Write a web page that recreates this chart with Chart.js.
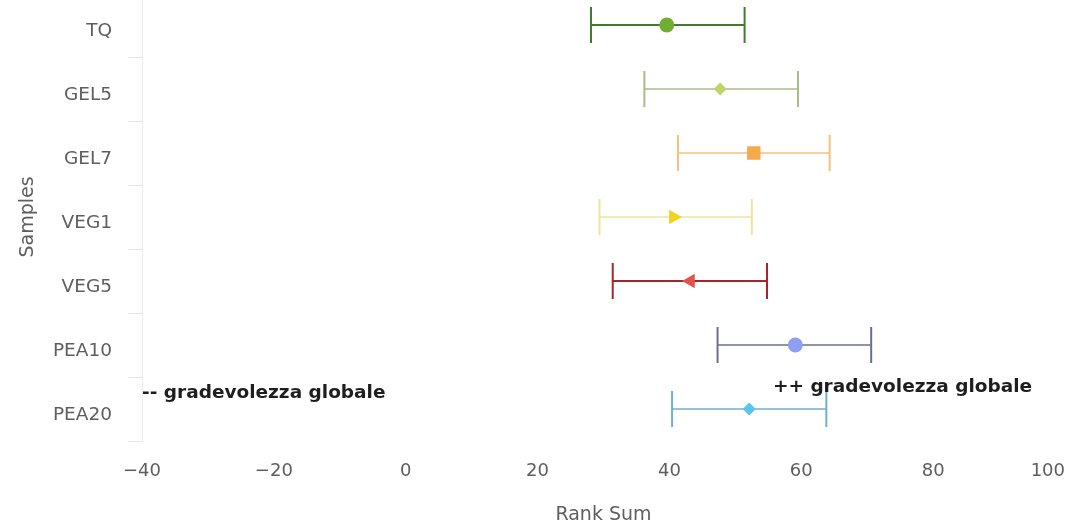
<!DOCTYPE html>
<html>
<head>
<meta charset="utf-8">
<title>Rank Sum</title>
<script src="https://cdn.jsdelivr.net/npm/chart.js@4.4.1/dist/chart.umd.min.js"></script>
<style>
  html, body { margin: 0; padding: 0; background: #fff; overflow: hidden; }
  #wrap { position: relative; width: 1073px; height: 537px; margin-top: -7px; }
</style>
</head>
<body>
<div id="wrap"><canvas id="chart"></canvas></div>
<script>
  const samples = ['TQ', 'GEL5', 'GEL7', 'VEG1', 'VEG5', 'PEA10', 'PEA20'];
  const rankMean = [39.6, 47.7, 52.8, 40.6, 43.2, 59.1, 52.1];
  const rankLow = [28.1, 36.2, 41.3, 29.4, 31.4, 47.3, 40.4];
  const rankHigh = [51.4, 59.5, 64.3, 52.5, 54.8, 70.6, 63.8];
  const xTicks = [-40, -20, 0, 20, 40, 60, 80, 100];
  const noteTexts = ['-- gradevolezza globale', '++ gradevolezza globale'];

  const FONT = '"DejaVu Sans", "Lucida Grande", sans-serif';
  const TEXT = '#5e5e5e';
  const lineColors = ['#3f7d2c', '#a9bd84', '#f4c27a', '#f1e39a', '#a8242c', '#6b6f8c', '#6fb0d2'];
  const markerColors = ['#6fae30', '#bcd46a', '#f7aa4c', '#f1d21c', '#e2534c', '#8c9ff0', '#5cc2ee'];
  const markerStyles = ['circle', 'rectRot', 'rect', 'triangle', 'triangle', 'circle', 'rectRot'];
  const markerRotation = [0, 0, 0, 90, -90, 0, 0];
  const markerRadius = [7.5, 6.5, 9.5, 8.5, 8.5, 7.5, 6.5];

  function tickText(v) {
    if (v === xTicks[xTicks.length - 1]) return ''; // drawn by hand, kept inside the canvas
    return v < 0 ? '\u2212' + Math.abs(v) : String(v);
  }

  // whiskers: one dataset per sample, caps are rotated 'line' points
  const errorSets = samples.map((s, i) => ({
    label: s,
    data: [{ x: rankLow[i], y: s }, { x: rankHigh[i], y: s }],
    showLine: true,
    borderColor: lineColors[i],
    borderWidth: (i === 0 || i === 4) ? 2 : 1.6,
    pointStyle: 'line',
    rotation: 90,
    pointRadius: 18,
    pointBorderColor: lineColors[i],
    pointBorderWidth: 2,
    order: 1
  }));

  const markerSet = {
    label: 'Rank Sum',
    data: samples.map((s, i) => ({ x: rankMean[i], y: s })),
    showLine: false,
    pointStyle: markerStyles,
    rotation: markerRotation,
    pointRadius: markerRadius,
    backgroundColor: markerColors,
    borderColor: markerColors,
    borderWidth: 0,
    order: 0
  };

  const notesPlugin = {
    id: 'notes',
    afterDraw(chart) {
      const { ctx } = chart;
      const x = chart.scales.x, y = chart.scales.y;
      const mid = y.getPixelForValue(5.5);
      ctx.save();
      ctx.fillStyle = '#1e1e1e';
      ctx.font = 'bold 18.5px ' + FONT;
      ctx.textAlign = 'left';
      ctx.textBaseline = 'alphabetic';
      ctx.fillText(noteTexts[0], x.getPixelForValue(-40), mid + 21);
      ctx.fillText(noteTexts[1], x.getPixelForValue(55.7), mid + 15);

      ctx.fillStyle = TEXT;
      ctx.font = '18px ' + FONT;
      ctx.textAlign = 'right';
      ctx.textBaseline = 'middle';
      ctx.fillText(String(xTicks[xTicks.length - 1]), x.right, x.top + 20 + 18 * 1.2 / 2);
      ctx.restore();
    }
  };

  new Chart(document.getElementById('chart'), {
    type: 'scatter',
    data: { datasets: [markerSet].concat(errorSets) },
    options: {
      responsive: true,
      maintainAspectRatio: false,
      animation: false,
      events: [],
      layout: { autoPadding: false, padding: { top: 0, right: 8, bottom: 0, left: 0 } },
      plugins: { legend: { display: false }, tooltip: { enabled: false } },
      scales: {
        x: {
          type: 'linear',
          min: -40,
          max: 100,
          afterBuildTicks: s => { s.ticks = xTicks.map(v => ({ value: v })); },
          afterFit: s => { s.height = 89; s.paddingLeft = 0; s.paddingRight = 0; },
          grid: { display: false, drawTicks: false },
          border: { display: false },
          ticks: { padding: 20, color: TEXT, font: { family: FONT, size: 18 }, maxRotation: 0, callback: tickText },
          title: { display: true, text: 'Rank Sum', color: TEXT, font: { family: FONT, size: 19 }, padding: { top: 0, bottom: 4 } }
        },
        y: {
          type: 'category',
          labels: samples,
          offset: true,
          afterFit: s => { s.width = 142; s.paddingTop = 0; s.paddingBottom = 0; },
          grid: { display: true, drawOnChartArea: false, offset: true, tickLength: 14, color: '#e6e6e6' },
          border: { display: true, color: '#ededed' },
          ticks: { padding: 16, labelOffset: 6, color: TEXT, font: { family: FONT, size: 18.5 } },
          title: { display: true, text: 'Samples', color: TEXT, font: { family: FONT, size: 19 }, padding: { top: 17, bottom: 0 } }
        }
      }
    },
    plugins: [notesPlugin]
  });
</script>
</body>
</html>
